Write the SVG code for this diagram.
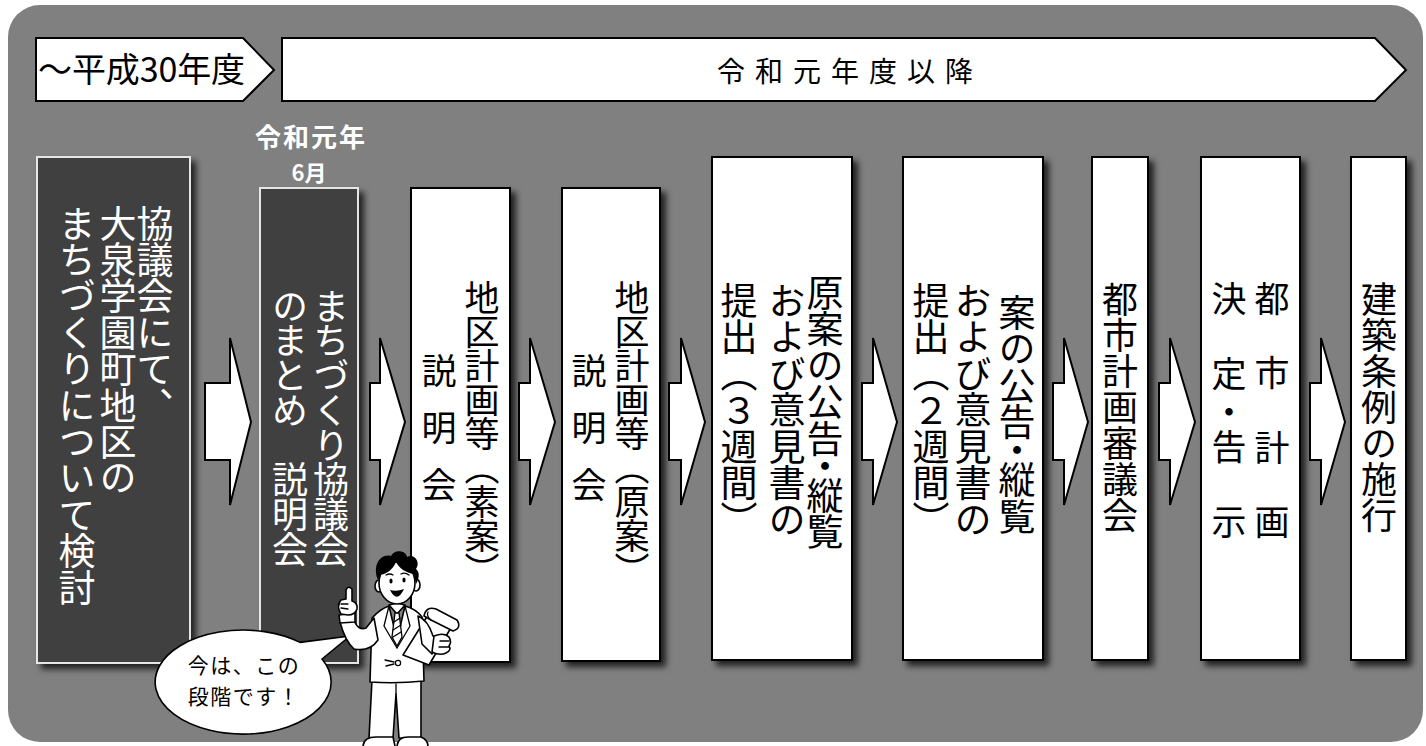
<svg xmlns="http://www.w3.org/2000/svg" width="1426" height="746" viewBox="0 0 1426 746">
  <defs>
    <filter id="shadow" x="-20%" y="-5%" width="150%" height="115%">
      <feDropShadow dx="5" dy="5" stdDeviation="3" flood-color="#000" flood-opacity="0.75"/>
    </filter>
    <style>
      .jp { font-family: "Noto Sans CJK JP", "Noto Sans", sans-serif; }
      .v { writing-mode: vertical-rl; font-family: "Noto Sans CJK JP", sans-serif; }
      .light { fill: #ffffff; stroke: #000; stroke-width: 2; }
      .dark { fill: #404040; stroke: #e6e6e6; stroke-width: 2; }
      .box { filter: url(#shadow); }
      .ink { fill: #000; }
      .flow { fill: #fff; stroke: #000; stroke-width: 2; stroke-linejoin: miter; }
      .line { fill: #fff; stroke: #000; stroke-width: 1.6; stroke-linejoin: round; stroke-linecap: round; }
      .thin { fill: none; stroke: #000; stroke-width: 1.3; stroke-linecap: round; }
    </style>
  </defs>

  <!-- backdrop panel -->
  <rect x="8" y="5" width="1415" height="737" rx="32" fill="#808080"/>

  <!-- period bar -->
  <g id="period-before">
    <path class="flow" d="M36,38 L243,38 L274,70 L243,101 L36,101 Z"/>
    <text class="jp ink" x="38" y="82" font-size="34" textLength="207" lengthAdjust="spacing">～平成30年度</text>
  </g>
  <g id="period-after">
    <path class="flow" d="M282,38 L1375,38 L1406,70 L1375,101 L282,101 Z"/>
    <text class="jp ink" x="850" y="82" font-size="28" letter-spacing="10" text-anchor="middle">令和元年度以降</text>
  </g>

  <!-- date label over the current step -->
  <g id="date-label" class="jp" fill="#fff" font-weight="bold" text-anchor="middle">
    <text x="311" y="147" font-size="26" letter-spacing="2">令和元年</text>
    <text x="309" y="181" font-size="22">6月</text>
  </g>

  <!-- steps -->
  <g id="step1">
    <rect class="dark box" x="37" y="157" width="153" height="506"/>
    <g class="v" fill="#fff" font-size="37" letter-spacing="-0.6">
      <text x="155" y="205">協議会にて、</text>
      <text x="118" y="205">大泉学園町地区の</text>
      <text x="77" y="205">まちづくりについて検討</text>
    </g>
  </g>

  <g id="step2">
    <rect class="dark box" x="260" y="188" width="98" height="475"/>
    <g class="v" fill="#fff" font-size="36" letter-spacing="-1.25">
      <text x="331" y="288">まちづくり協議会</text>
      <text x="290" y="288">のまとめ　説明会</text>
    </g>
  </g>

  <g id="step3">
    <rect class="light box" x="411" y="188" width="99" height="474"/>
    <g class="v ink" font-size="35">
      <text x="482" y="280" letter-spacing="-1">地区計画等（素案）</text>
      <text x="439" y="353" letter-spacing="22">説明会</text>
    </g>
  </g>

  <g id="step4">
    <rect class="light box" x="562" y="188" width="98" height="473"/>
    <g class="v ink" font-size="35">
      <text x="632" y="280" letter-spacing="-1">地区計画等（原案）</text>
      <text x="589" y="353" letter-spacing="22">説明会</text>
    </g>
  </g>

  <g id="step5">
    <rect class="light box" x="712" y="157" width="140" height="503"/>
    <g class="v ink" font-size="37" letter-spacing="-0.5">
      <text x="825" y="274">原案の公告<tspan y="447">・</tspan><tspan y="477">縦覧</tspan></text>
      <text x="787" y="282">および意見書の</text>
      <text x="739" y="282">提出（３週間）</text>
    </g>
  </g>

  <g id="step6">
    <rect class="light box" x="903" y="157" width="140" height="503"/>
    <g class="v ink" font-size="37" letter-spacing="-0.5">
      <text x="1017" y="294">案の公告<tspan y="431">・</tspan><tspan y="461">縦覧</tspan></text>
      <text x="973" y="282">および意見書の</text>
      <text x="931" y="282">提出（２週間）</text>
    </g>
  </g>

  <g id="step7">
    <rect class="light box" x="1092" y="157" width="56" height="503"/>
    <text class="v ink" x="1120" y="281" font-size="36" letter-spacing="0">都市計画審議会</text>
  </g>

  <g id="step8">
    <rect class="light box" x="1201" y="157" width="99" height="503"/>
    <g class="v ink" font-size="35">
      <text x="1272" y="281" letter-spacing="39.5">都市計画</text>
      <text x="1229" y="281">決<tspan y="356">定</tspan><tspan y="394">・</tspan><tspan y="429">告</tspan><tspan y="504">示</tspan></text>
    </g>
  </g>

  <g id="step9">
    <rect class="light box" x="1351" y="157" width="55" height="503"/>
    <text class="v ink" x="1379" y="281" font-size="36" letter-spacing="0">建築条例の施行</text>
  </g>

  <!-- block arrows between steps -->
  <g id="connectors">
    <path class="flow" d="M205,383 L230,383 L230,338 L251,422 L230,505 L230,460 L205,460 Z"/>
    <path class="flow" d="M370,383 L380,383 L380,338 L405,422 L380,505 L380,460 L370,460 Z"/>
    <path class="flow" d="M519,383 L530,383 L530,338 L555,422 L530,505 L530,460 L519,460 Z"/>
    <path class="flow" d="M669,383 L681,383 L681,338 L705,422 L681,505 L681,460 L669,460 Z"/>
    <path class="flow" d="M862,383 L873,383 L873,338 L897,422 L873,505 L873,460 L862,460 Z"/>
    <path class="flow" d="M1053,383 L1064,383 L1064,338 L1088,422 L1064,505 L1064,460 L1053,460 Z"/>
    <path class="flow" d="M1159,383 L1170,383 L1170,338 L1195,422 L1170,505 L1170,460 L1159,460 Z"/>
    <path class="flow" d="M1310,383 L1321,383 L1321,338 L1345,422 L1321,505 L1321,460 L1310,460 Z"/>
  </g>

  <!-- speech balloon -->
  <g id="balloon">
    <path d="M322,659 L350,636 L300,642.4 A88,52 0 1,0 322,659 Z" fill="#fff" stroke="#000" stroke-width="1.6" stroke-linejoin="round"/>
    <g class="jp ink" font-size="21" letter-spacing="1.5" text-anchor="middle">
      <text x="244" y="673">今は、この</text>
      <text x="244" y="704">段階です！</text>
    </g>
  </g>

  <!-- presenter figure -->
  <g id="presenter">
    <!-- trousers -->
    <path class="line" d="M372,680 L369,738 L393,738 L396,694 L399,738 L421,738 L421,679 Z"/>
    <path class="thin" d="M396,694 L396,684"/>
    <!-- shoes -->
    <path class="line" d="M363,746 Q364,737 376,737 L393,737 L395,746"/>
    <path class="line" d="M397,746 Q398,737 408,737 L421,737 Q428,740 428,746"/>
    <!-- jacket -->
    <path class="line" d="M372,618 Q380,609 389,606 L397,640 L405,606 Q416,609 422,617 L424,681 Q396,684 370,682 Z"/>
    <path class="thin" d="M389,606 L384,626 L397,648 L410,626 L405,606"/>
    <!-- shirt collar and tie -->
    <path class="line" d="M389,605 L397,614 L405,605 L397,603 Z"/>
    <path d="M395,613 L399,613 L402,637 L397,646 L392,637 Z" fill="#fff" stroke="#000" stroke-width="1.3"/>
    <path class="thin" d="M394,622 L400,618 M393,630 L401,625 M393,637 L401,632"/>
    <!-- button -->
    <circle cx="398" cy="663" r="2.6" fill="#fff" stroke="#000" stroke-width="1.2"/>
    <path class="thin" d="M385,660 L394,662 M386,666 L394,664"/>
    <!-- raised arm -->
    <path class="line" d="M374,618 L378,640 Q370,652 354,649 Q345,641 340,622 L354,620 Q358,631 366,628 Z"/>
    <path class="line" d="M339,615 L355,613 L355,622 L340,623 Z"/>
    <!-- raised hand, index finger up -->
    <path class="line" d="M341,614 Q336,606 341,600 L346,599 L346,590 Q348,585 352,589 L352,601 Q358,603 357,609 Q355,615 348,615 Z"/>
    <path class="thin" d="M341,604 L348,604 M341,608 L348,609"/>
    <!-- document and roll -->
    <path class="line" d="M403,655 L429,665 L452,626 L428,615 Z"/>
    <path class="line" d="M424,616 Q426,606 436,609 L457,620 Q462,628 453,631 L431,620 Z"/>
    <path class="thin" d="M431,620 Q426,616 428,612"/>
    <!-- arm holding the document -->
    <path class="line" d="M418,616 Q428,620 433,636 L440,642 L432,654 L422,644 Z"/>
    <path class="line" d="M434,636 Q444,632 449,637 Q452,642 449,646 Q452,650 446,653 Q440,656 432,652 Z"/>
    <path class="thin" d="M440,641 L449,641 M439,647 L449,647"/>
    <!-- head -->
    <ellipse cx="379" cy="586" rx="4" ry="6" class="line"/>
    <ellipse cx="416" cy="585" rx="4" ry="6" class="line"/>
    <ellipse cx="397" cy="583" rx="18" ry="21" class="line"/>
    <path d="M378,580 C372,566 380,553 391,556 C394,549 406,550 407,557 C414,553 421,562 416,569 C421,573 418,581 416,584 L414,574 C406,573 399,568 396,562 C393,570 386,574 380,575 Z" fill="#000"/>
    <path class="thin" d="M386,575 Q390,573 393,575 M401,574 Q405,572 409,575"/>
    <ellipse cx="391" cy="581" rx="1.6" ry="2.6" fill="#000"/>
    <ellipse cx="404" cy="580" rx="1.6" ry="2.6" fill="#000"/>
    <path d="M390,590 Q397,604 404,589 Q397,592 390,590 Z" fill="#000"/>
  </g>
</svg>
